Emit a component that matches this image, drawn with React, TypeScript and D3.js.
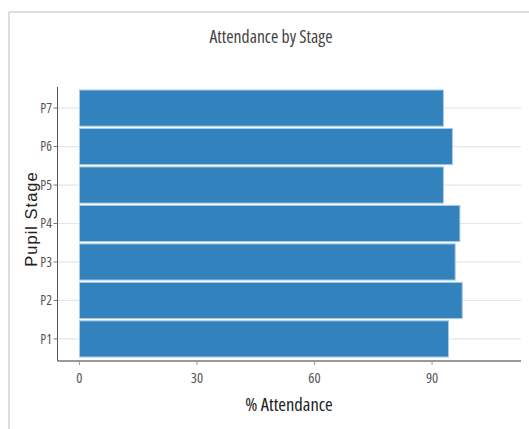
import React from "react";
import * as d3 from "d3";

const stages = ["P1", "P2", "P3", "P4", "P5", "P6", "P7"];
const attendance = [94.2, 97.7, 95.9, 97.1, 92.9, 95.2, 92.9];
const xTicks = [0, 30, 60, 90];

const W = 529;
const H = 429;
const axisLeft = 57.5;
const axisRight = 521;
const axisTop = 87;
const axisBottom = 361;

const condensed = "'Open Sans', 'Liberation Sans Narrow', sans-serif";

export default function App() {
  const x = d3.scaleLinear().domain([-5.6, 112.7]).range([axisLeft, axisRight]);
  const y = d3
    .scaleBand<string>()
    .domain([...stages].reverse())
    .range([90, 357])
    .paddingInner(0.06)
    .paddingOuter(0.0);

  const bw = y.bandwidth();

  return (
    <svg
      width={W}
      height={H}
      style={{ position: "absolute", left: 0, top: 0, background: "#fff" }}
    >
      {/* frame */}
      <line x1={9} y1={12} x2={W} y2={12} stroke="#dddddd" strokeWidth={2} />
      <line x1={9} y1={12} x2={9} y2={H} stroke="#dddddd" strokeWidth={2} />

      {/* title */}
      <text
        x={271}
        y={43}
        textAnchor="middle"
        fontFamily={condensed}
        fontSize={17.7}
        fill="#444"
        style={{ fontStretch: "75%" }}
      >
        Attendance by Stage
      </text>

      {/* gridlines */}
      {stages.map((s) => (
        <line
          key={"g" + s}
          x1={axisLeft}
          x2={axisRight}
          y1={(y(s) ?? 0) + bw / 2}
          y2={(y(s) ?? 0) + bw / 2}
          stroke="#e6e6e6"
          strokeWidth={1.2}
        />
      ))}

      {/* bars */}
      {stages.map((s, i) => (
        <rect
          key={"b" + s}
          x={x(0)}
          y={y(s)}
          width={x(attendance[i]) - x(0)}
          height={bw}
          fill="#3182bd"
          stroke="#a9cbe6"
          strokeWidth={1}
        />
      ))}

      {/* y axis */}
      <line x1={axisLeft} x2={axisLeft} y1={axisTop} y2={axisBottom} stroke="#555" strokeWidth={1} />
      {stages.map((s) => {
        const cy = (y(s) ?? 0) + bw / 2;
        return (
          <g key={"yt" + s}>
            <line x1={axisLeft - 4} x2={axisLeft} y1={cy} y2={cy} stroke="#777" />
            <text
              x={axisLeft - 5.5}
              y={cy}
              dy="0.36em"
              textAnchor="end"
              fontFamily={condensed}
              fontSize={13.5}
              fill="#555"
              style={{ fontStretch: "75%" }}
            >
              {s}
            </text>
          </g>
        );
      })}

      {/* x axis */}
      <line x1={axisLeft} x2={axisRight} y1={axisBottom} y2={axisBottom} stroke="#777" strokeWidth={1.5} />
      {xTicks.map((t) => (
        <g key={"xt" + t}>
          <line x1={x(t)} x2={x(t)} y1={axisBottom} y2={axisBottom + 4} stroke="#999" />
          <text
            x={x(t)}
            y={383}
            textAnchor="middle"
            fontFamily={condensed}
            fontSize={14.5}
            fill="#555"
            style={{ fontStretch: "75%" }}
          >
            {t}
          </text>
        </g>
      ))}

      {/* axis titles */}
      <text
        x={289}
        y={410.5}
        textAnchor="middle"
        fontFamily={condensed}
        fontSize={18.5}
        fill="#222"
        style={{ fontStretch: "75%" }}
      >
        % Attendance
      </text>
      <text
        transform={`translate(36.5, 219) rotate(-90)`}
        textAnchor="middle"
        fontFamily="'Liberation Sans', Arial, sans-serif"
        fontSize={16.5}
        letterSpacing={1}
        fill="#222"
      >
        Pupil Stage
      </text>
    </svg>
  );
}
